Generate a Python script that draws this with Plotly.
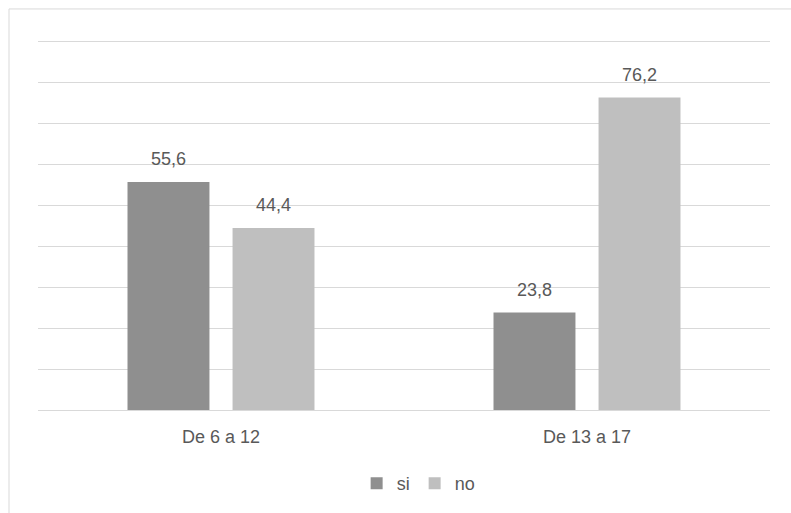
import plotly.graph_objects as go

categories = ["De 6 a 12", "De 13 a 17"]
si_values = [55.6, 23.8]
no_values = [44.4, 76.2]
series_names = ["si", "no"]
series_colors = ["#8f8f8f", "#bfbfbf"]

font_family = "Liberation Sans, Arial, sans-serif"
text_color = "#595959"
fsize = 18

fig = go.Figure()
for name, vals, col in zip(series_names, [si_values, no_values], series_colors):
    fig.add_trace(go.Bar(
        x=categories, y=vals, name=name, offsetgroup=name,
        marker=dict(color=col, line=dict(width=0)),
    ))
for name, vals in zip(series_names, [si_values, no_values]):
    fig.add_trace(go.Scatter(
        x=categories, y=vals, name=name + " labels", offsetgroup=name,
        mode="markers+text", showlegend=False, hoverinfo="skip",
        marker=dict(size=18, opacity=0),
        text=[f"{v:.1f}".replace(".", ",") for v in vals],
        textposition="top center",
        textfont=dict(color=text_color, size=fsize, family=font_family),
        cliponaxis=False,
    ))

fig.update_layout(
    width=791, height=513,
    margin=dict(l=38, r=21, t=39, b=102),
    paper_bgcolor="white", plot_bgcolor="white",
    separators=",.",
    barmode="group", bargap=0.426, bargroupgap=0.22,
    scattermode="group", scattergap=0.426,
    font=dict(family=font_family, color=text_color, size=fsize),
    showlegend=True,
    legend=dict(orientation="h", x=0.52, xanchor="center", y=-0.195, yanchor="middle",
                font=dict(size=fsize, color=text_color), itemwidth=30,
                traceorder="normal"),
    xaxis=dict(showline=True, linecolor="#d9d9d9", linewidth=1, ticks="",
               ticklabelstandoff=10,
               tickfont=dict(size=fsize, color=text_color), showgrid=False),
    yaxis=dict(range=[0, 90.5], tick0=0, dtick=10, showgrid=True, gridcolor="#d9d9d9", gridwidth=1,
               showticklabels=False, zeroline=False, showline=False, ticks=""),
    shapes=[
        dict(type="line", xref="paper", yref="paper", x0=-0.0396, x1=1.1, y0=1.081, y1=1.081,
             line=dict(color="#d9d9d9", width=1)),
        dict(type="line", xref="paper", yref="paper", x0=-0.0396, x1=-0.0396, y0=1.081, y1=-0.3,
             line=dict(color="#d9d9d9", width=1)),
    ],
)

fig.write_html("out.html", config={"displayModeBar": False},
               post_script="document.body.style.margin='0';")
